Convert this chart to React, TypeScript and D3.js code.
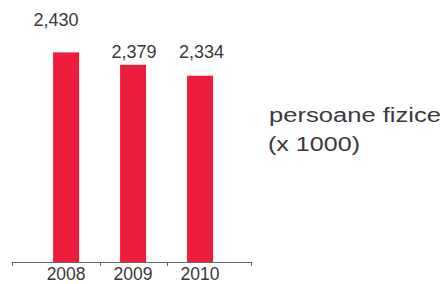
import React from "react";
import * as d3 from "d3";

const years = ["2008", "2009", "2010"];
const values = [2430, 2379, 2334];
const valueLabels = ["2,430", "2,379", "2,334"];
const unitLines = ["persoane fizice", "(x 1000)"];

const W = 443;
const H = 284;
const FONT = "'Liberation Sans', Arial, Helvetica, sans-serif";
const TEXT = "#3a3a3a";
const RED = "#ee1c3b";

// small label nudges to mimic the reference placement
const labelDx = [-10, 1, 1.5];
const labelDy = [-12, 7, -4];

export default function App() {
  const axisY = 262;
  const x = d3
    .scaleBand<string>()
    .domain(years)
    .range([12, 251])
    .paddingInner(0.612)
    .paddingOuter(0.59)
    .align(0.52);
  const y = d3.scaleLinear().domain([1568, 2430]).range([axisY, 52.4]);
  const step = x.step();
  const inner = step * x.paddingInner();
  const tickXs = [12, ...years.slice(1).map((d) => (x(d) as number) - inner / 2), 251];

  return (
    <div style={{ position: "absolute", left: 0, top: 0 }}>
      <svg width={W} height={H} style={{ display: "block", background: "#fff" }}>
        {years.map((d, i) => (
          <rect
            key={d}
            x={x(d)}
            y={y(values[i])}
            width={x.bandwidth()}
            height={axisY - y(values[i])}
            fill={RED}
          />
        ))}
        <line x1={12} x2={251} y1={axisY + 0.5} y2={axisY + 0.5} stroke="#666" strokeWidth={1} />
        {tickXs.map((t, i) => (
          <line
            key={i}
            x1={Math.round(t) + 0.5}
            x2={Math.round(t) + 0.5}
            y1={axisY}
            y2={axisY + 4}
            stroke="#666"
            strokeWidth={1}
          />
        ))}
        {years.map((d, i) => (
          <text
            key={"v" + d}
            x={(x(d) as number) + x.bandwidth() / 2 + labelDx[i]}
            y={y(values[i]) - 14 + labelDy[i]}
            textAnchor="middle"
            fontFamily={FONT}
            fontSize={18}
            fill={TEXT}
          >
            {valueLabels[i]}
          </text>
        ))}
        {years.map((d) => (
          <text
            key={"y" + d}
            x={(x(d) as number) + x.bandwidth() / 2}
            y={280}
            textAnchor="middle"
            fontFamily={FONT}
            fontSize={17.5}
            fill={TEXT}
          >
            {d}
          </text>
        ))}
        <text
          x={269}
          y={122}
          fontFamily={FONT}
          fontSize={20}
          fill={TEXT}
          textLength={172}
          lengthAdjust="spacingAndGlyphs"
        >
          {unitLines[0]}
        </text>
        <text
          x={268}
          y={151}
          fontFamily={FONT}
          fontSize={20}
          fill={TEXT}
          textLength={92}
          lengthAdjust="spacingAndGlyphs"
        >
          {unitLines[1]}
        </text>
      </svg>
    </div>
  );
}
